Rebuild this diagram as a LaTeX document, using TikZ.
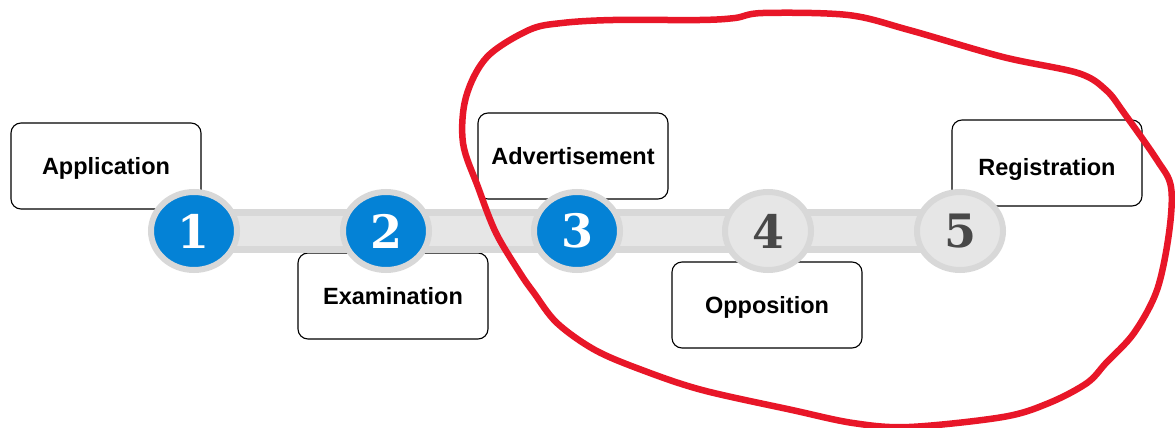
\documentclass[tikz,border=0pt]{standalone}
\usepackage{fontspec}
\setmainfont{Liberation Sans}
\newfontfamily\digitfont{DejaVu Serif}
\usetikzlibrary{shapes.geometric}
\definecolor{stepblue}{RGB}{4,130,214}
\definecolor{ringgray}{RGB}{216,216,216}
\definecolor{bargray}{RGB}{230,230,230}
\definecolor{digitgray}{RGB}{72,72,72}
\definecolor{loopred}{RGB}{232,22,40}
\newcommand{\boxtext}[2]{\raisebox{-#1}[17pt][5pt]{#2}}
\tikzset{
  labelbox/.style={draw=black, line width=1.1pt, rounded corners=10pt, fill=white,
    minimum width=190pt, minimum height=86pt, inner sep=0pt,
    font=\fontsize{23.5}{27}\selectfont\bfseries},
  stepdone/.style={ellipse, draw=ringgray, line width=6pt, fill=stepblue,
    minimum width=86pt, minimum height=78pt, inner sep=0pt, text=white,
    font=\digitfont\fontsize{46}{46}\selectfont\bfseries},
  steptodo/.style={stepdone, fill=bargray, text=digitgray},
  barouter/.style={line width=44pt, draw=ringgray},
  barinner/.style={line width=30pt, draw=bargray},
  loopline/.style={draw=loopred, line width=6.5pt, line cap=round, line join=round}
}
\begin{document}
\begin{tikzpicture}[x=1pt, y=-1pt]
\useasboundingbox (0,0) rectangle (1175,428);
% label boxes
\node[labelbox] (b1) at (106,166) {\boxtext{2pt}{Application}};
\node[labelbox] (b2) at (393,296) {\boxtext{2pt}{Examination}};
\node[labelbox] (b3) at (573,156) {\boxtext{2pt}{Advertisement}};
\node[labelbox] (b4) at (767,305) {\boxtext{2pt}{Opposition}};
\node[labelbox] (b5) at (1047,163) {\boxtext{6pt}{Registration}};
% bar
\coordinate (p1) at (194,231);
\coordinate (p5) at (960,231);
\draw[barouter] (p1) -- (p5);
\draw[barinner] (p1) -- (p5);
% steps
\node[stepdone] (c1) at (194,231) {1};
\node[stepdone] (c2) at (386,231) {2};
\node[stepdone] (c3) at (577,231) {3};
\node[steptodo] (c4) at (768,231) {4};
\node[steptodo] (c5) at (960,231) {5};
% red loop
\draw[loopline] plot[smooth cycle, tension=0.55] coordinates {
 (735,18) (763,13) (848,15) (909,30) (1003,57) (1078,73) (1106,90) (1124,113)
 (1157,160) (1171,187) (1169,233) (1157,290) (1134,333) (1106,363) (1087,383)
 (1049,403) (1003,417) (909,427) (853,423) (792,410) (702,390) (642,370)
 (595,350) (557,323) (534,293) (520,273) (496,233) (478,187) (463,143)
 (466,97) (487,57) (529,30) (562,23) (613,20) (700,20)};
\end{tikzpicture}
\end{document}
